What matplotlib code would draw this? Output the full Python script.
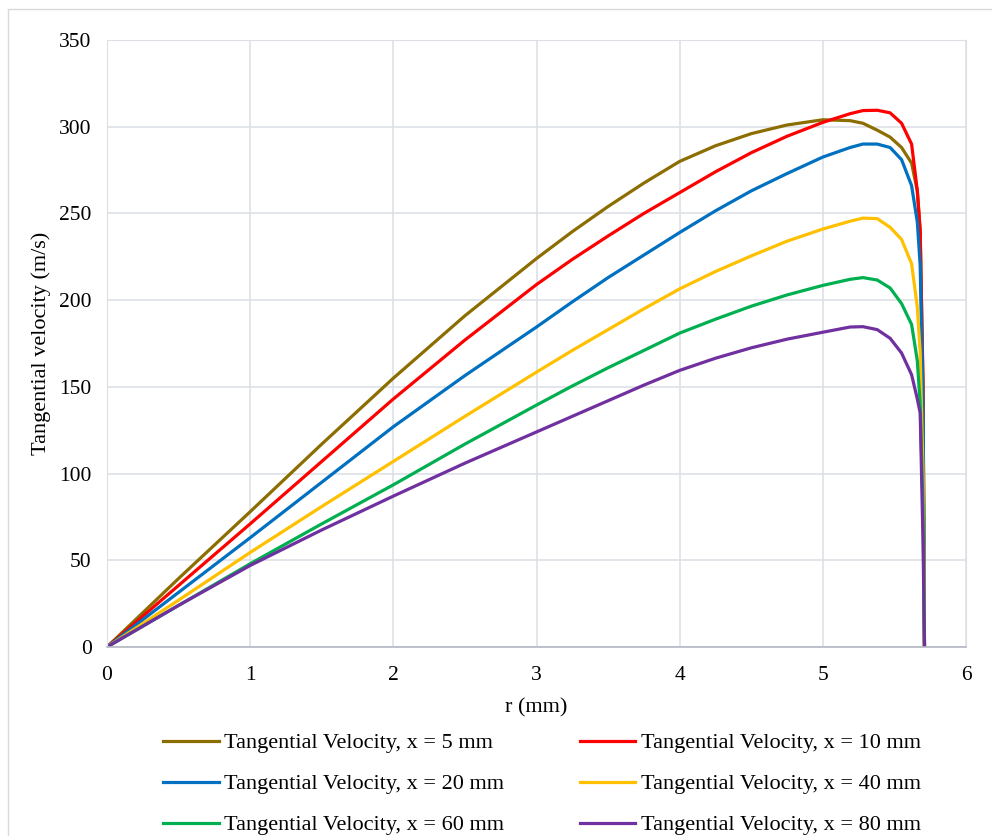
import matplotlib.pyplot as plt
from matplotlib.patches import Rectangle

# radial positions (mm), shared by all series
r_mm = [0, 0.5, 1.0, 1.5, 2.0, 2.5, 3.0, 3.25, 3.5, 3.75, 4.0, 4.25, 4.5, 4.75,
        5.0, 5.19, 5.28, 5.38, 5.47, 5.55, 5.62, 5.66, 5.68, 5.70, 5.71]

# tangential velocity (m/s) at each axial station
v_x5 = [0, 39.5, 78, 117, 155, 191, 224, 239.5, 254, 267.5, 280, 289, 296, 301,
        304, 303.5, 302, 298, 294, 288, 279, 263, 240, 150, 0]
v_x10 = [0, 35.5, 71, 107, 143, 177, 209, 223.5, 237, 250, 262, 274, 285, 294.5,
         302.5, 307.5, 309.3, 309.5, 308, 302, 290, 263, 240, 150, 0]
v_x20 = [0, 31.5, 63, 95, 127, 156.5, 184.5, 199, 213, 226, 239, 251.5, 263, 273,
         282.5, 288, 290, 290, 288, 281, 266, 245, 220, 140, 0]
v_x40 = [0, 27, 54.5, 81, 107, 133, 158.5, 171, 183, 195, 206.5, 216.5, 225.5, 234,
         241, 245.5, 247.3, 247, 242, 235, 221, 196, 170, 100, 0]
v_x60 = [0, 24, 48, 71, 93.5, 117, 139.5, 150.5, 161, 171, 181, 189, 196.5, 203,
         208.5, 212, 213, 211.6, 207, 198, 186, 165, 140, 80, 0]
v_x80 = [0, 24, 47, 67.5, 87, 106, 124, 133, 142, 151, 159.5, 166.5, 172.5, 177.5,
         181.5, 184.5, 184.7, 183, 178, 169.5, 157, 143, 135, 60, 0]

labels = ["Tangential Velocity, x = 5 mm", "Tangential Velocity, x = 10 mm",
          "Tangential Velocity, x = 20 mm", "Tangential Velocity, x = 40 mm",
          "Tangential Velocity, x = 60 mm", "Tangential Velocity, x = 80 mm"]
colors = ["#8c6d00", "#ff0000", "#0070c0", "#ffc000", "#00b050", "#7030a0"]

plt.rcParams["font.family"] = ["Liberation Serif", "DejaVu Serif"]

fig = plt.figure(figsize=(9.92, 8.36), dpi=100)
ax = fig.add_axes([107 / 992, 1 - 647 / 836, (966 - 107) / 992, (647 - 40) / 836])

lines = []
for v, lab, c in zip([v_x5, v_x10, v_x20, v_x40, v_x60, v_x80], labels, colors):
    ln, = ax.plot(r_mm, v, color=c, lw=2.3, label=lab, solid_joinstyle="round")
    lines.append(ln)

ax.set_xlim(0, 6)
ax.set_ylim(0, 350)
ax.set_xticks(range(0, 7))
ax.set_yticks(range(0, 351, 50))
ax.grid(True, color="#dde0e6", lw=1.2)
ax.set_axisbelow(True)
ax.tick_params(length=0, labelsize=15.5, colors="black")
ax.tick_params(axis="y", pad=11)
ax.tick_params(axis="x", pad=14)
for s in ["top", "left", "right"]:
    ax.spines[s].set_color("#dde0e6")
ax.spines["bottom"].set_color("#b4b8c2")
ax.spines["bottom"].set_linewidth(1.2)

ax.set_xlabel("r (mm)", fontsize=16, labelpad=9)
ax.set_ylabel("Tangential velocity (m/s)", fontsize=16, labelpad=6)

# legend filled row by row, like the original
order = [0, 2, 4, 1, 3, 5]
fig.legend([lines[i] for i in order], [labels[i] for i in order],
           loc="center", bbox_to_anchor=(542 / 992, 1 - 784 / 836), ncol=2,
           frameon=False, fontsize=16, handlelength=2.5, handletextpad=0.25,
           columnspacing=3.4, labelspacing=0.92)

fig.patches.append(Rectangle((8 / 992, -0.1), 1.2, 1.1 - 9 / 836,
                             transform=fig.transFigure, fill=False,
                             edgecolor="#d9d9d9", lw=1))

fig.savefig("out.png", dpi=100)
